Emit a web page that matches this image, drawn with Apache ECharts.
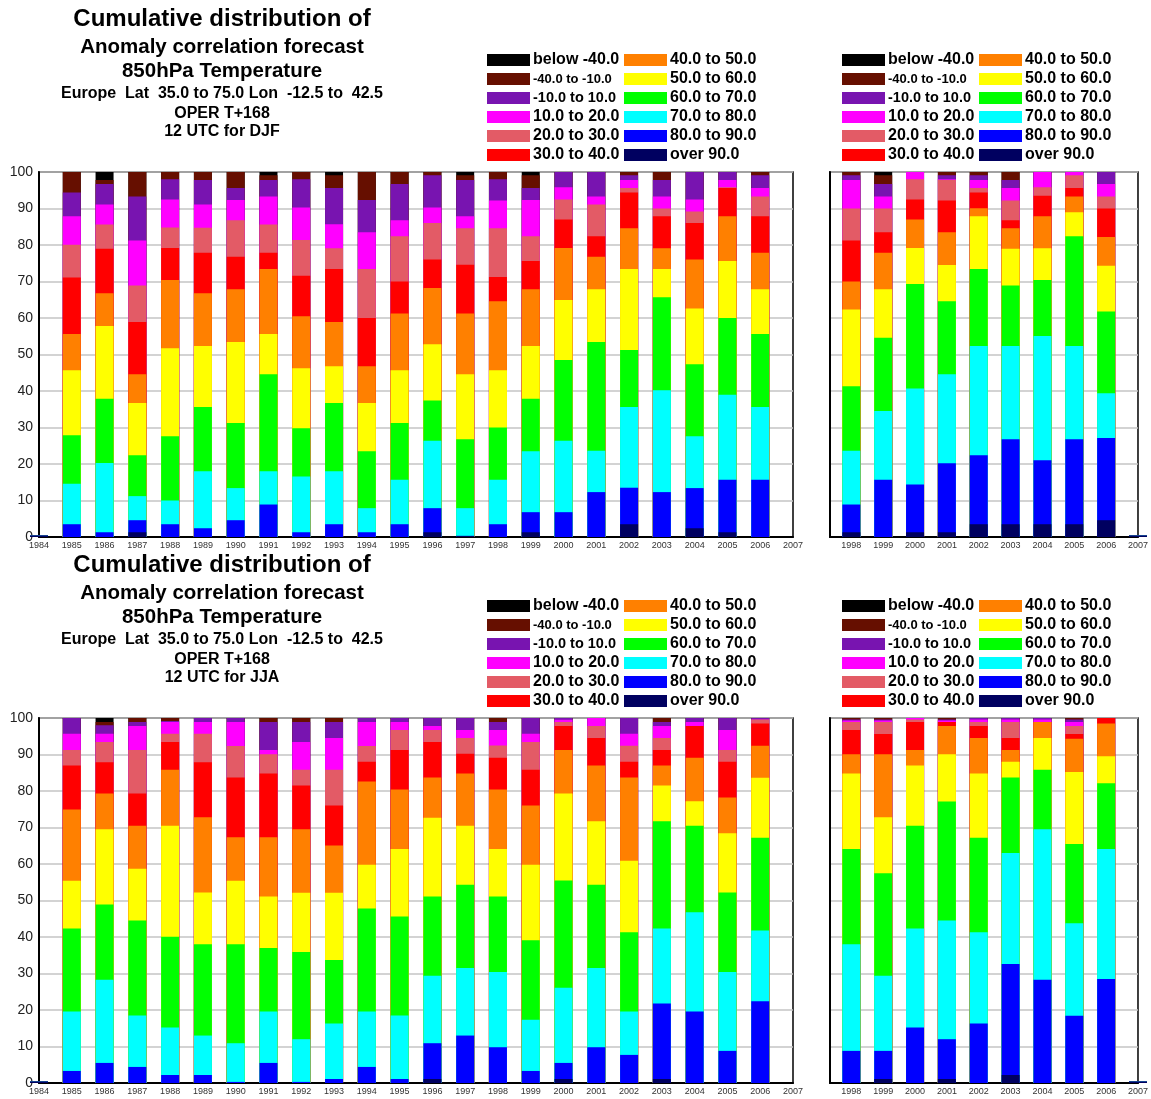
<!DOCTYPE html>
<html>
<head>
<meta charset="utf-8">
<title>Cumulative distribution of Anomaly correlation forecast</title>
<script src="https://cdn.jsdelivr.net/npm/echarts@6/dist/echarts.min.js"></script>
<style>
html,body{margin:0;padding:0;background:#fff;}
#main{width:1151px;height:1099px;}
</style>
</head>
<body>
<div id="main"></div>
<script>
// classes, bottom of the stack first
var classNames=['over 90.0','80.0 to 90.0','70.0 to 80.0','60.0 to 70.0','50.0 to 60.0','40.0 to 50.0',
    '30.0 to 40.0','20.0 to 30.0','10.0 to 20.0','-10.0 to 10.0','-40.0 to -10.0','below -40.0'];
var classColors=['#000060','#0000ff','#00ffff','#00ff00','#ffff00','#ff8000',
    '#ff0000','#e35b66','#ff00ff','#7814b0','#660f00','#000000'];

var allYears=[1984,1985,1986,1987,1988,1989,1990,1991,1992,1993,1994,1995,1996,1997,1998,1999,2000,2001,2002,2003,2004,2005,2006];
var recentYears=[1998,1999,2000,2001,2002,2003,2004,2005,2006,2007];
var recentTicks=[1998,1999,2000,2001,2002,2003,2004,2005,2006,2007];

// cumulative % at the top of each class (navy ... black), one row per year
var djfAll=[
    [0.4,0.4,0.4,0.4,0.4,0.4,0.4,0.4,0.4,0.4,0.4,0.4],
    [0,3.5,14.6,27.9,45.7,55.6,71.1,80.1,87.9,94.4,100,100],
    [0,1.3,20.3,37.9,57.8,66.8,79.0,85.6,91.1,96.7,97.8,100],
    [1.3,4.6,11.2,22.4,36.7,44.6,58.9,68.9,81.2,93.3,100,100],
    [0,3.5,10.0,27.6,51.7,70.4,79.2,84.8,92.5,98.0,100,100],
    [0,2.4,18.0,35.6,52.3,66.8,77.9,84.7,91.1,97.8,100,100],
    [0,4.6,13.4,31.2,53.4,67.9,76.8,86.8,92.3,95.6,100,100],
    [0,8.9,18.0,44.6,55.6,73.4,77.9,85.6,93.3,97.8,99.1,100],
    [0,1.3,16.6,29.8,46.2,60.5,71.6,81.4,90.3,98.0,100,100],
    [0,3.5,18.0,36.7,46.8,58.9,73.4,79.1,85.7,95.6,99.1,100],
    [0,1.3,7.9,23.5,36.7,46.8,60.0,73.4,83.5,92.3,100,100],
    [0,3.5,15.7,31.2,45.7,61.2,70.0,82.4,86.8,96.7,100,100],
    [1.3,7.9,26.4,37.4,52.8,68.2,76.0,86.0,90.3,99.1,100,100],
    [0.3,0.3,7.9,26.8,44.6,61.2,74.6,84.6,87.9,97.8,99.1,100],
    [0,3.5,15.7,30.0,45.7,64.6,71.2,84.6,92.2,98.0,100,100],
    [1.3,6.8,23.5,37.9,52.3,67.9,75.6,82.4,92.3,95.6,99.1,100],
    [0,6.8,26.4,48.5,64.9,79.2,87.0,92.5,95.8,100,100,100],
    [0,12.3,23.6,53.4,67.9,76.8,82.4,91.1,93.3,100,100,100],
    [3.5,13.5,35.6,51.2,73.4,84.6,94.4,95.6,97.8,99.1,100,100],
    [0,12.3,40.2,65.7,73.4,79.1,87.9,90.0,93.3,97.8,100,100],
    [2.4,13.4,27.6,47.3,62.6,76.0,86.0,89.2,92.5,100,100,100],
    [1.3,15.7,39.0,60.0,75.6,87.9,95.6,95.8,97.8,100,100,100],
    [0,15.7,35.6,55.6,67.9,77.9,87.9,93.3,95.6,99.1,100,100]
];
var djfRecent=[
    [1.3,8.9,23.6,41.3,62.3,70.0,81.2,90.0,97.8,99.1,100,100],
    [0,15.7,34.5,54.6,67.9,77.9,83.5,90.0,93.3,96.7,99.1,100],
    [1.3,14.4,40.7,69.3,79.2,87.0,92.5,98.0,100,100,100,100],
    [1.3,20.2,44.6,64.6,74.5,83.5,92.2,97.8,98.0,99.1,100,100],
    [3.5,22.4,52.3,73.4,87.9,90.1,94.4,95.6,97.8,99.1,100,100],
    [3.5,26.8,52.3,68.9,79.0,84.6,86.8,92.2,95.6,97.8,100,100],
    [3.5,21.0,55.1,70.4,79.1,87.9,93.5,95.8,100,100,100,100],
    [3.5,26.8,52.3,82.4,89.0,93.3,95.6,99.1,100,100,100,100],
    [4.6,27.1,39.4,61.8,74.3,82.2,90.0,93.3,96.7,100,100,100],
    [0.4,0.4,0.4,0.4,0.4,0.4,0.4,0.4,0.4,0.4,0.4,0.4]
];
var jjaAll=[
    [0.4,0.4,0.4,0.4,0.4,0.4,0.4,0.4,0.4,0.4,0.4,0.4],
    [0,3.3,19.6,42.3,55.4,74.9,87.0,91.2,95.7,100,100,100],
    [0,5.5,28.3,48.9,69.5,79.3,87.9,93.4,95.7,98.0,98.9,100],
    [0,4.4,18.5,44.5,58.7,70.5,79.3,91.2,97.8,98.9,100,100],
    [0,2.2,15.2,40.1,70.5,85.8,93.4,95.7,98.9,99.2,100,100],
    [0,2.2,13.0,38.0,52.2,72.8,87.9,95.7,98.9,100,100,100],
    [0,0.3,10.9,38.0,55.4,67.3,83.7,92.3,98.9,100,100,100],
    [0,5.5,19.6,37.0,51.1,67.3,84.8,90.1,91.2,98.9,100,100],
    [0,0.3,12.0,35.9,52.1,69.5,81.5,85.8,93.4,98.9,100,100],
    [0,1.1,16.3,33.7,52.1,65.1,76.0,85.8,94.5,98.9,100,100],
    [0,4.4,19.6,47.8,59.8,82.6,88.0,92.3,98.9,100,100,100],
    [0,1.1,18.5,45.6,64.1,80.4,91.2,96.7,98.9,100,100,100],
    [1.1,10.9,29.4,51.1,72.7,83.7,93.4,96.7,97.8,100,100,100],
    [0,13.0,31.5,54.3,70.5,84.8,90.2,94.5,96.7,100,100,100],
    [0,9.8,30.4,51.1,64.1,80.4,89.1,92.5,96.7,98.9,100,100],
    [0,3.3,17.3,39.1,59.8,76.0,85.8,93.4,95.7,100,100,100],
    [1.1,5.5,26.1,55.5,79.3,91.2,97.8,98.9,99.5,100,100,100],
    [0,9.8,31.5,54.3,71.7,87.0,94.5,97.8,100,100,100,100],
    [0,7.7,19.6,41.3,60.9,83.7,88.0,92.4,95.7,100,100,100],
    [1.1,21.8,42.3,71.7,81.5,87.0,91.2,94.5,97.8,98.9,100,100],
    [0,19.6,46.8,70.5,77.2,89.1,97.8,97.8,98.9,100,100,100],
    [0,8.8,30.4,52.2,68.4,78.2,88.0,91.2,96.7,100,100,100],
    [0,22.4,41.8,67.2,83.6,92.4,98.5,99.6,99.6,100,100,100]
];
var jjaRecent=[
    [0,8.8,38.0,64.1,84.8,90.1,96.7,98.9,99.3,99.6,100,100],
    [1.1,8.8,29.4,57.5,72.8,90.1,95.6,98.9,99.3,99.6,100,100],
    [0,15.2,42.3,70.5,87.0,91.2,98.9,99.6,100,100,100,100],
    [1.1,12.0,44.5,77.1,90.1,97.8,98.9,98.9,99.3,99.6,100,100],
    [0,16.3,41.3,67.2,84.8,94.5,97.8,98.9,99.6,100,100,100],
    [2.2,32.6,63.0,83.7,88.0,91.2,94.5,98.9,99.6,100,100,100],
    [0,28.3,69.5,85.8,94.5,98.9,98.9,98.9,99.6,100,100,100],
    [0,18.4,43.8,65.5,85.2,94.3,95.6,97.8,98.9,99.6,100,100],
    [0,28.5,64.1,82.1,89.5,98.5,100,100,100,100,100,100],
    [0.4,0.4,0.4,0.4,0.4,0.4,0.4,0.4,0.4,0.4,0.4,0.4]
];

var titleLines=['Cumulative distribution of','Anomaly correlation forecast','850hPa Temperature',
    'Europe  Lat  35.0 to 75.0 Lon  -12.5 to  42.5','OPER T+168'];
var seasonLines=['12 UTC for DJF','12 UTC for JJA'];

var FONT='"Liberation Sans", Arial, sans-serif';
var myChart=echarts.init(document.getElementById('main'));

var grids=[],xAxes=[],yAxes=[],series=[],legends=[],graphics=[];

var addPanel=function(left,top,width,min,max,years,rows,showY,labelValues){
    var idx=grids.length;
    grids.push({left:left,top:top,width:width,height:365,show:true,borderColor:'#000',borderWidth:1.5,backgroundColor:'transparent'});
    var xa={
        type:'value',gridIndex:idx,min:min,max:max,
        splitLine:{show:false},
        axisLine:{show:true,onZero:false,lineStyle:{color:'#000',width:2}},
        axisTick:{show:false},
        axisLabel:{fontSize:9,color:'#333',margin:4,fontFamily:FONT,showMinLabel:true,showMaxLabel:true,
            formatter:function(v){return String(v);}}
    };
    if(labelValues){
        xa.axisLabel.customValues=labelValues;
        xa.axisTick.customValues=labelValues;
    }else{
        xa.interval=1;
    }
    xAxes.push(xa);
    yAxes.push({
        type:'value',gridIndex:idx,min:0,max:100,interval:10,
        axisLine:{show:true,lineStyle:{color:'#000',width:2}},
        axisTick:{show:false},
        splitLine:{show:true,lineStyle:{color:'#c4c4c4',width:1.5}},
        axisLabel:{show:showY,fontSize:14,color:'#222',margin:6,fontFamily:FONT}
    });
    // draw highest class first so lower classes sit on top of it
    for(var k=classNames.length-1;k>=0;k--){
        series.push({
            type:'bar',name:classNames[k],xAxisIndex:idx,yAxisIndex:idx,
            barWidth:18,barGap:'-100%',
            itemStyle:{color:classColors[k]},
            data:years.map(function(y,i){return [y,rows[i][k]];})
        });
    }
};

var addLegend=function(left,top,names){
    legends.push({
        left:left,top:top,orient:'vertical',padding:0,itemGap:3,
        itemWidth:43,itemHeight:12,icon:'rect',selectedMode:false,
        data:names,
        formatter:function(name){
            if(name=='-40.0 to -10.0'){return '{s|'+name+'}';}
            if(name=='-10.0 to 10.0'){return '{m|'+name+'}';}
            return name;
        },
        textStyle:{fontFamily:FONT,fontWeight:'bold',fontSize:16,color:'#000',lineHeight:16,padding:[0,0,0,-2],
            rich:{s:{fontFamily:FONT,fontWeight:'bold',fontSize:13,color:'#000'},
                  m:{fontFamily:FONT,fontWeight:'bold',fontSize:14.5,color:'#000'}}}
    });
};

var addTitle=function(dy,season){
    var ys=[19,47,71,94,114,132];
    var sizes=[24,20.5,20.5,16,16,16];
    var texts=titleLines.concat([season]);
    for(var i=0;i<texts.length;i++){
        graphics.push({type:'text',x:222,y:ys[i]+dy,
            style:{text:texts[i],fontFamily:FONT,fontWeight:'bold',fontSize:sizes[i],fill:'#000',
                textAlign:'center',textVerticalAlign:'middle'}});
    }
};

var col1=classNames.slice(6).reverse();
var col2=classNames.slice(0,6).reverse();

var offsets=[0,546];
var setsAll=[djfAll,jjaAll];
var setsRecent=[djfRecent,jjaRecent];
for(var p=0;p<2;p++){
    var dy=offsets[p];
    addPanel(39,172+dy,754,1984,2007,allYears,setsAll[p],true,null);
    addPanel(830,172+dy,316,1997.33,2007,recentYears,setsRecent[p],false,recentTicks);
    addLegend(487,52+dy,col1);
    addLegend(624,52+dy,col2);
    addLegend(842,52+dy,col1);
    addLegend(979,52+dy,col2);
    addTitle(dy,seasonLines[p]);
}

myChart.setOption({
    backgroundColor:'#fff',
    animation:false,
    grid:grids,
    xAxis:xAxes,
    yAxis:yAxes,
    legend:legends,
    graphic:graphics,
    series:series
});
</script>
</body>
</html>
